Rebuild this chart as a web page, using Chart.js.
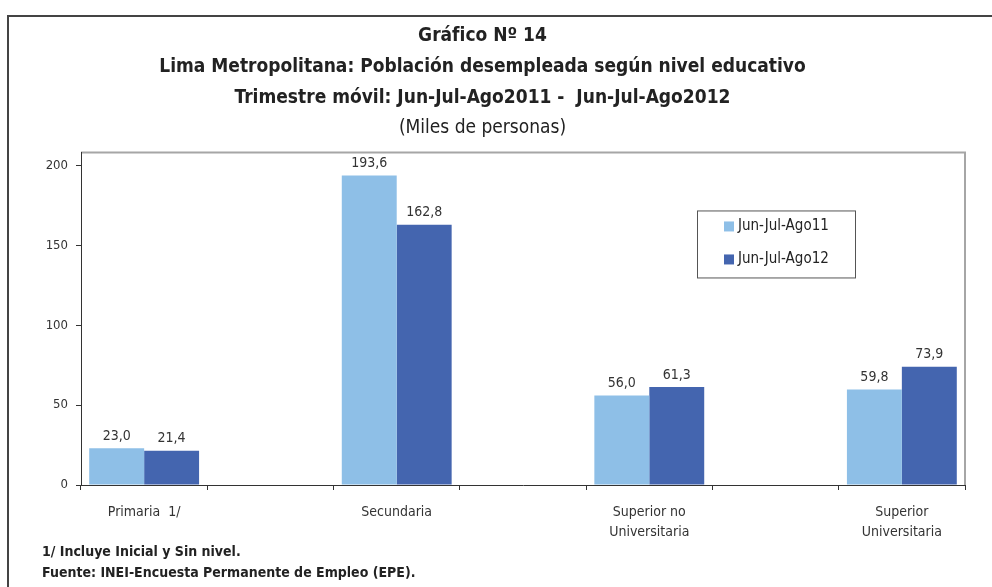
<!DOCTYPE html>
<html lang="es">
<head>
<meta charset="utf-8">
<title>Gráfico Nº 14</title>
<script src="https://cdn.jsdelivr.net/npm/chart.js@4/dist/chart.umd.min.js"></script>
<style>
  html, body { margin: 0; padding: 0; background: #fff; }
  #wrap { width: 992px; height: 587px; }
</style>
</head>
<body>
<div id="wrap"><canvas id="chart"></canvas></div>
<script>
const FONT = '"Liberation Sans Narrow", "DejaVu Sans Condensed", "Liberation Sans", sans-serif';

// blank categories sit between the real ones, like the original sheet
const categories = ['Primaria  1/', '', 'Secundaria', '', ['Superior no', 'Universitaria'], '', ['Superior', 'Universitaria']];
const serie2011 = [23.0, null, 193.6, null, 56.0, null, 59.8];
const serie2012 = [21.4, null, 162.8, null, 61.3, null, 73.9];
const seriesNames = ['Jun-Jul-Ago11', 'Jun-Jul-Ago12'];
const yTicks = [0, 50, 100, 150, 200];
const notes = ['1/ Incluye Inicial y Sin nivel.', 'Fuente: INEI-Encuesta Permanente de Empleo (EPE).'];

const COLORS = ['#8ebfe7', '#4465af'];

function fmt(v) {
  return v.toFixed(1).replace('.', ',');
}

const frame = {
  id: 'frame',
  beforeDraw(chart) {
    const c = chart.ctx;
    c.save();
    c.strokeStyle = '#444';
    c.lineWidth = 2;
    c.beginPath();
    c.moveTo(8, 600);
    c.lineTo(8, 16);
    c.lineTo(1000, 16);
    c.stroke();
    // grey box on top/right of plot
    const a = chart.chartArea;
    c.strokeStyle = '#a6a6a6';
    c.lineWidth = 2;
    c.beginPath();
    c.moveTo(a.left, a.top);
    c.lineTo(a.right, a.top);
    c.lineTo(a.right, a.bottom);
    c.stroke();
    c.restore();
  }
};

const labels = {
  id: 'labels',
  afterDatasetsDraw(chart) {
    const c = chart.ctx;
    c.save();
    c.font = '14px ' + FONT;
    c.fillStyle = '#333';
    c.textAlign = 'center';
    c.textBaseline = 'bottom';
    chart.data.datasets.forEach((ds, i) => {
      chart.getDatasetMeta(i).data.forEach((bar, j) => {
        if (ds.data[j] == null) return;
        c.fillText(fmt(ds.data[j]), bar.x, bar.y - 5);
      });
    });
    c.restore();
  }
};

const boxLegend = {
  id: 'boxLegend',
  afterDraw(chart) {
    const c = chart.ctx;
    const a = chart.chartArea;
    const x = a.left + 616, y = a.top + 58, w = 158, h = 67;
    c.save();
    c.fillStyle = '#fff';
    c.fillRect(x, y, w, h);
    c.strokeStyle = '#555';
    c.lineWidth = 1;
    c.strokeRect(x + 0.5, y + 0.5, w, h);
    c.font = '15px ' + FONT;
    c.textBaseline = 'middle';
    chart.data.datasets.forEach((ds, i) => {
      const cy = y + 16 + i * 33;
      c.fillStyle = ds.backgroundColor;
      c.fillRect(x + 27, cy - 5, 10, 10);
      c.fillStyle = '#222';
      c.fillText(ds.label, x + 41, cy);
    });
    c.restore();
  }
};

const footnotes = {
  id: 'footnotes',
  afterDraw(chart) {
    const c = chart.ctx;
    c.save();
    c.font = 'bold 14px ' + FONT;
    c.fillStyle = '#222';
    c.textBaseline = 'middle';
    notes.forEach((t, i) => c.fillText(t, 42, 552 + i * 21));
    c.restore();
  }
};

new Chart(document.getElementById('chart'), {
  type: 'bar',
  data: {
    labels: categories,
    datasets: [
      { label: seriesNames[0], data: serie2011, backgroundColor: COLORS[0] },
      { label: seriesNames[1], data: serie2012, backgroundColor: COLORS[1] }
    ]
  },
  options: {
    responsive: true,
    maintainAspectRatio: false,
    animation: false,
    layout: { padding: { left: 0, right: 27, top: 0, bottom: 42 } },
    datasets: { bar: { categoryPercentage: 0.87, barPercentage: 1.0 } },
    plugins: {
      legend: { display: false },
      tooltip: { enabled: false },
      title: {
        display: true,
        text: ['Gráfico Nº 14', 'Lima Metropolitana: Población desempleada según nivel educativo', 'Trimestre móvil: Jun-Jul-Ago2011 -  Jun-Jul-Ago2012'],
        color: '#222',
        font: { family: FONT, size: 19, weight: 'bold', lineHeight: 1.63 },
        padding: { top: 21, bottom: 0 }
      },
      subtitle: {
        display: true,
        text: '(Miles de personas)',
        color: '#222',
        font: { family: FONT, size: 19, weight: 'normal', lineHeight: 1.45 },
        padding: { top: 0, bottom: 11 }
      }
    },
    scales: {
      x: {
        grid: { drawOnChartArea: false, tickLength: 5, color: '#333' },
        border: { color: '#333', width: 1 },
        ticks: { color: '#333', font: { family: FONT, size: 14, lineHeight: 1.45 }, padding: 12, maxRotation: 0, autoSkip: false },
        afterFit(s) { s.height = 60; }
      },
      y: {
        min: 0,
        max: 208,
        grid: { drawOnChartArea: false, tickLength: 5, color: '#333' },
        border: { color: '#333', width: 1 },
        ticks: { color: '#333', font: { family: FONT, size: 13 }, padding: 8 },
        afterBuildTicks(s) { s.ticks = yTicks.map(v => ({ value: v })); },
        afterFit(s) { s.width = 81; }
      }
    }
  },
  plugins: [frame, labels, boxLegend, footnotes]
});
</script>
</body>
</html>
